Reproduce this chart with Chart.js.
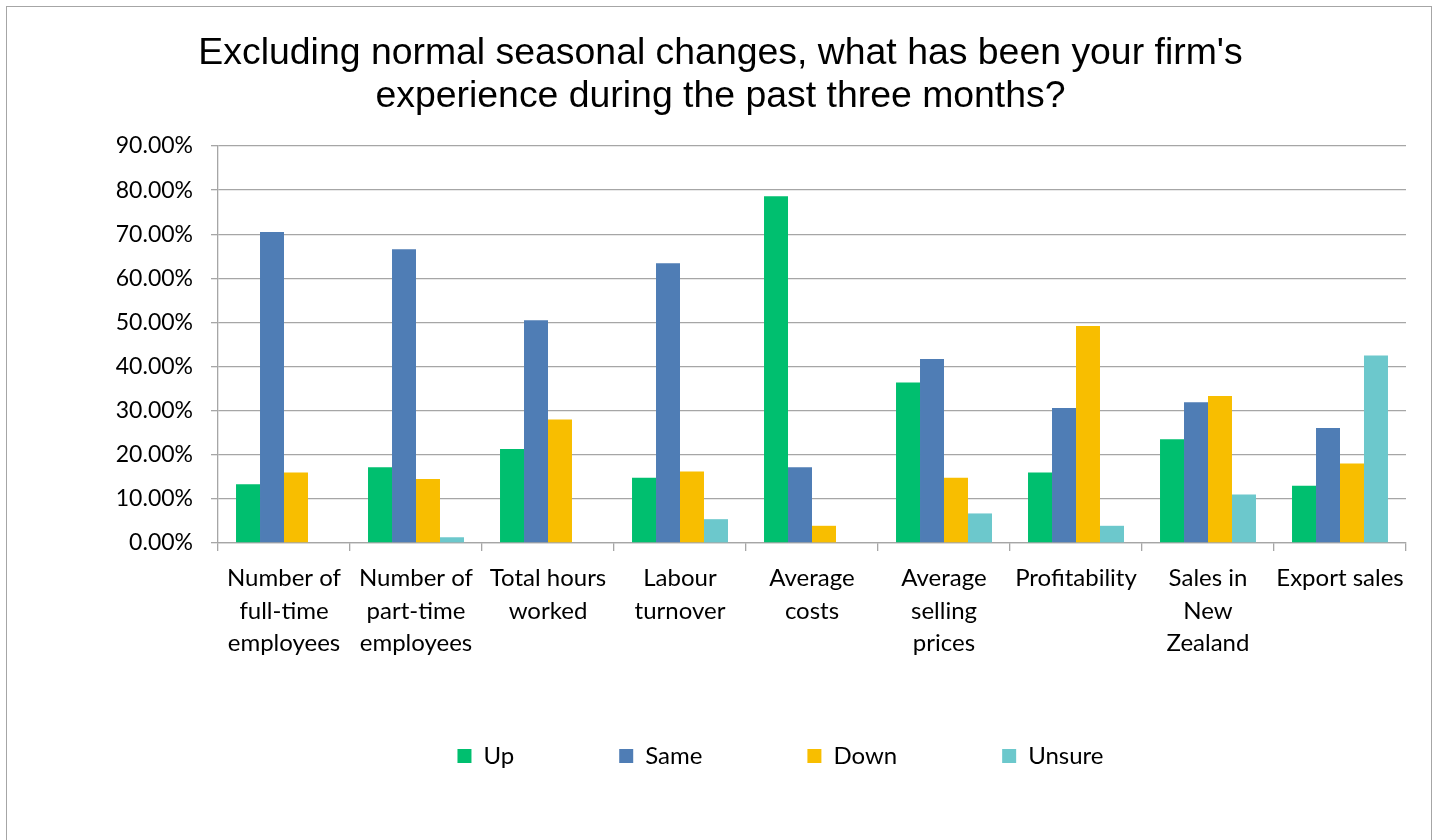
<!DOCTYPE html>
<html>
<head>
<meta charset="utf-8">
<script src="https://cdn.jsdelivr.net/npm/chart.js@4.4.1/dist/chart.umd.min.js"></script>
<style>
  html, body { margin: 0; padding: 0; background: #ffffff; overflow: hidden; }
  #frame {
    position: absolute; left: 6px; top: 6px; width: 1426px; height: 900px;
    border: 1.5px solid #a6a6a6; box-sizing: border-box; pointer-events: none;
  }
  #wrap { position: absolute; left: 0; top: 0; width: 1441px; height: 840px; }
</style>
</head>
<body>
<div id="wrap"><canvas id="chart" width="1441" height="840"></canvas></div>
<div id="frame"></div>
<script>
// Survey question: experience over the past three months, share of firms (%)
const categories = [
  ["Number of", "full-time", "employees"],
  ["Number of", "part-time", "employees"],
  ["Total hours", "worked"],
  ["Labour", "turnover"],
  ["Average", "costs"],
  ["Average", "selling", "prices"],
  "Profitability",
  ["Sales in", "New", "Zealand"],
  "Export sales"
];
const seriesNames = ["Up", "Same", "Down", "Unsure"];
const upValues     = [13.3, 17.2, 21.3, 14.8, 78.6, 36.4, 16.0, 23.5, 13.0];
const sameValues   = [70.5, 66.6, 50.5, 63.4, 17.2, 41.7, 30.6, 31.9, 26.1];
const downValues   = [16.0, 14.5, 28.0, 16.2,  3.9, 14.8, 49.2, 33.3, 18.0];
const unsureValues = [ 0.0,  1.3,  0.0,  5.4,  0.0,  6.7,  3.9, 11.0, 42.5];
const yTicks = [0, 10, 20, 30, 40, 50, 60, 70, 80, 90];

const seriesColors = ["#00BF6F", "#4F7DB5", "#F8BE00", "#6CC8CC"];
const seriesValues = [upValues, sameValues, downValues, unsureValues];

const gridColor = "#a6a6a6";

// places the legend row under the plot, a little closer to the axis labels
const legendPlace = {
  id: "legendPlace",
  afterLayout(chart) {
    const lg = chart.legend;
    if (!lg) return;
    lg.left += 60; lg.right += 60;
    lg.top -= 24; lg.bottom -= 24;
  }
};

new Chart(document.getElementById("chart"), {
  type: "bar",
  data: {
    labels: categories,
    datasets: seriesNames.map((name, i) => ({
      label: name,
      data: seriesValues[i],
      backgroundColor: seriesColors[i],
      borderWidth: 0,
      categoryPercentage: 0.727,
      barPercentage: 1.0
    }))
  },
  options: {
    responsive: false,
    animation: false,
    devicePixelRatio: 1,
    layout: { padding: { top: 10, left: 35, right: 35, bottom: 38 } },
    plugins: {
      title: {
        display: true,
        text: ["Excluding normal seasonal changes, what has been your firm's",
               "experience during the past three months?"],
        color: "#000000",
        font: { family: "Liberation Sans", size: 37.4, weight: "normal", lineHeight: 1.15 },
        padding: { top: 22, bottom: 28 }
      },
      legend: {
        position: "bottom",
        labels: {
          color: "#000000",
          font: { family: "Lato", size: 24 },
          boxWidth: 14,
          boxHeight: 14,
          padding: 105
        }
      },
      tooltip: { enabled: false }
    },
    scales: {
      x: {
        grid: {
          display: true, drawOnChartArea: false, drawTicks: true,
          tickLength: 8, color: gridColor, lineWidth: 1.3
        },
        border: { display: true, color: gridColor, width: 1.3 },
        ticks: {
          color: "#000000",
          font: { family: "Lato", size: 24, lineHeight: 1.355 },
          padding: 11,
          maxRotation: 0,
          autoSkip: false
        },
        afterFit(scale) { scale.height = 120; }
      },
      y: {
        min: 0,
        max: 90,
        afterBuildTicks(scale) { scale.ticks = yTicks.map(v => ({ value: v })); },
        grid: {
          color: gridColor, lineWidth: 1.3, drawTicks: true, tickLength: 7
        },
        border: { display: true, color: gridColor, width: 1.3 },
        ticks: {
          color: "#000000",
          font: { family: "Lato", size: 23 },
          padding: 18,
          callback: v => v.toFixed(2) + "%"
        },
        afterFit(scale) { scale.width = 183; }
      }
    }
  },
  plugins: [legendPlace]
});
</script>
</body>
</html>
